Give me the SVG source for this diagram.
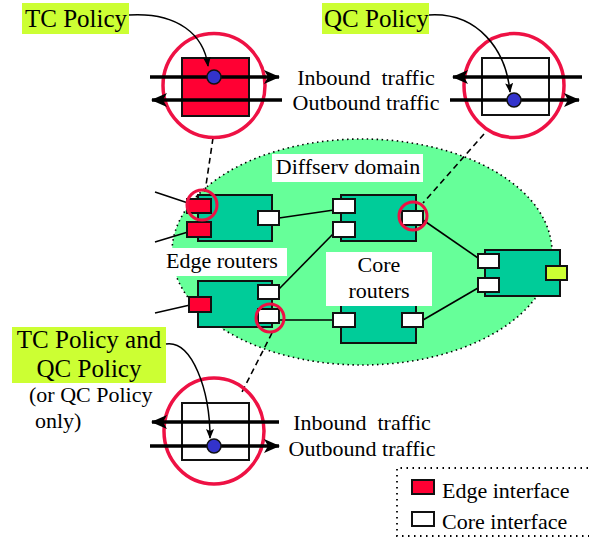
<svg xmlns="http://www.w3.org/2000/svg" width="589" height="538" viewBox="0 0 589 538">
<style>
text{font-family:"Liberation Serif",Tinos,"Times New Roman","DejaVu Serif","Noto Serif",serif;fill:#000}
.t22{font-size:22px}
.t25{font-size:25px}
.body{fill:#00cc99;stroke:#111;stroke-width:2}
.core{fill:#fff;stroke:#111;stroke-width:2}
.edge{fill:#ff0033;stroke:#111;stroke-width:2}
.yel{fill:#ccff33;stroke:#111;stroke-width:2}
.link{stroke:#000;stroke-width:1.6;fill:none}
.dash{stroke:#000;stroke-width:1.6;fill:none;stroke-dasharray:6 4}
.ring{fill:none;stroke:#ee1144;stroke-width:3.5}
.ring2{fill:none;stroke:#ee1144;stroke-width:3}
.traffic{stroke:#000;stroke-width:3.5;fill:none}
.dot{fill:#3333cc;stroke:#111;stroke-width:1.5}
.hl{fill:#ccff33}
.lbl{fill:#fff}
.ptr{stroke:#000;stroke-width:1.5;fill:none}
</style>
<defs>
<marker id="big" viewBox="0 0 16 14" refX="15" refY="7" markerWidth="16" markerHeight="14" markerUnits="userSpaceOnUse" orient="auto">
<path d="M0,0 L16,7 L0,14 L4,7 Z" fill="#000"/>
</marker>
<marker id="small" viewBox="0 0 10 8" refX="9" refY="4" markerWidth="10" markerHeight="8" markerUnits="userSpaceOnUse" orient="auto">
<path d="M0,0 L10,4 L0,8 L2,4 Z" fill="#000"/>
</marker>
</defs>

<g id="domain">
<ellipse cx="362" cy="252" rx="190" ry="113" fill="#66ff99" stroke="#000" stroke-width="1.6" stroke-dasharray="1.5 3.5"/>
</g>

<g id="connectors">
<line class="link" x1="155" y1="192" x2="188" y2="203"/>
<line class="link" x1="155" y1="242" x2="188" y2="232"/>
<line class="link" x1="155" y1="313" x2="190" y2="305"/>
<line class="link" x1="279" y1="218" x2="334" y2="210"/>
<line class="link" x1="279" y1="289" x2="334" y2="233"/>
<line class="link" x1="279" y1="320" x2="334" y2="320"/>
<line class="link" x1="423" y1="220" x2="478" y2="258"/>
<line class="link" x1="423" y1="320" x2="478" y2="288"/>
<line class="dash" x1="213" y1="138" x2="205" y2="192"/>
<line class="dash" x1="484" y1="134" x2="423" y2="203"/>
<line class="dash" x1="272" y1="333" x2="242" y2="392"/>
</g>

<g id="edge-router-1">
<rect class="body" x="198" y="195" width="74" height="46"/>
<rect class="edge" x="187" y="199" width="24" height="14"/>
<rect class="edge" x="187" y="222" width="24" height="15"/>
<rect class="core" x="258" y="211" width="21" height="14"/>
</g>
<g id="core-router-1">
<rect class="body" x="341" y="195" width="75" height="46"/>
<rect class="core" x="333" y="199" width="22" height="14"/>
<rect class="core" x="333" y="222" width="22" height="15"/>
<rect class="core" x="402" y="211" width="21" height="14"/>
</g>
<g id="edge-router-2">
<rect class="body" x="198" y="281" width="74" height="46"/>
<rect class="edge" x="189" y="297" width="22" height="15"/>
<rect class="core" x="258" y="285" width="21" height="14"/>
<rect class="core" x="258" y="309" width="21" height="14"/>
</g>
<g id="core-router-2">
<rect class="body" x="341" y="297" width="75" height="46"/>
<rect class="core" x="333" y="313" width="22" height="14"/>
<rect class="core" x="402" y="313" width="21" height="14"/>
</g>
<g id="boundary-router">
<rect class="body" x="485" y="250" width="75" height="46"/>
<rect class="core" x="478" y="254" width="21" height="14"/>
<rect class="core" x="478" y="278" width="21" height="14"/>
<rect class="yel" x="546" y="266" width="21" height="14"/>
</g>

<g id="label-diffserv">
<rect class="lbl" x="272" y="154" width="151" height="28"/>
<text class="t22" x="348" y="174" text-anchor="middle">Diffserv domain</text>
</g>
<g id="label-edge-routers">
<rect class="lbl" x="163" y="248" width="124" height="28"/>
<text class="t22" x="222" y="268" text-anchor="middle">Edge routers</text>
</g>
<g id="label-core-routers">
<rect class="lbl" x="326" y="252" width="106" height="54"/>
<text class="t22" x="379" y="272" text-anchor="middle">Core</text>
<text class="t22" x="379" y="298" text-anchor="middle">routers</text>
</g>

<g id="small-rings">
<circle class="ring2" cx="202" cy="205" r="15"/>
<circle class="ring2" cx="413" cy="216" r="14"/>
<circle class="ring2" cx="270" cy="318" r="14"/>
</g>

<g id="tc-detail">
<ellipse class="ring" cx="214" cy="85.5" rx="51" ry="52"/>
<rect class="edge" x="182" y="58" width="67" height="58" stroke-width="1.5"/>
<line class="traffic" x1="150" y1="77" x2="279" y2="77" marker-end="url(#big)"/>
<line class="traffic" x1="282" y1="100" x2="152" y2="100" marker-end="url(#big)"/>
<circle class="dot" cx="214" cy="77" r="7"/>
</g>
<g id="qc-detail">
<ellipse class="ring" cx="514" cy="85.5" rx="50" ry="52"/>
<rect class="core" x="482" y="58" width="67" height="57" stroke-width="1.5"/>
<line class="traffic" x1="582" y1="77" x2="453" y2="77" marker-end="url(#big)"/>
<line class="traffic" x1="450" y1="100" x2="579" y2="100" marker-end="url(#big)"/>
<circle class="dot" cx="514" cy="100" r="7"/>
</g>
<g id="tcqc-detail">
<ellipse class="ring" cx="214" cy="431" rx="50" ry="53"/>
<rect class="core" x="182" y="403" width="67" height="57" stroke-width="1.5"/>
<line class="traffic" x1="279" y1="422" x2="152" y2="422" marker-end="url(#big)"/>
<line class="traffic" x1="150" y1="446" x2="279" y2="446" marker-end="url(#big)"/>
<circle class="dot" cx="214" cy="446" r="7"/>
</g>

<g id="traffic-labels">
<text class="t22" x="366" y="85" text-anchor="middle" xml:space="preserve">Inbound  traffic</text>
<text class="t22" x="366" y="110" text-anchor="middle">Outbound traffic</text>
<text class="t22" x="362" y="430" text-anchor="middle" xml:space="preserve">Inbound  traffic</text>
<text class="t22" x="362" y="456" text-anchor="middle">Outbound traffic</text>
</g>

<g id="tc-policy">
<rect class="hl" x="22" y="3" width="107" height="31"/>
<text class="t25" x="25" y="27">TC Policy</text>
<path class="ptr" d="M129,15 C178,12 204,35 208,66" marker-end="url(#small)"/>
</g>
<g id="qc-policy">
<rect class="hl" x="322" y="3" width="107" height="31"/>
<text class="t25" x="324" y="27">QC Policy</text>
<path class="ptr" d="M429,15 C478,12 506,50 510,92" marker-end="url(#small)"/>
</g>
<g id="tcqc-policy">
<rect class="hl" x="12" y="327" width="154" height="56"/>
<text class="t25" x="89" y="348" text-anchor="middle">TC Policy and</text>
<text class="t25" x="89" y="377" text-anchor="middle">QC Policy</text>
<text class="t22" x="29" y="402">(or QC Policy</text>
<text class="t22" x="35" y="428">only)</text>
<path class="ptr" d="M166,344 C192,340 210,390 210,438" marker-end="url(#small)"/>
</g>

<g id="legend">
<path d="M600,468 L397,468 L397,536 L600,536" fill="none" stroke="#000" stroke-width="1.8" stroke-dasharray="1.5 4.5"/>
<rect class="edge" x="412" y="480" width="22" height="14" stroke-width="1.5"/>
<text class="t22" x="442" y="498">Edge interface</text>
<rect class="core" x="412" y="512" width="22" height="14" stroke-width="1.5"/>
<text class="t22" x="442" y="529">Core interface</text>
</g>
</svg>
